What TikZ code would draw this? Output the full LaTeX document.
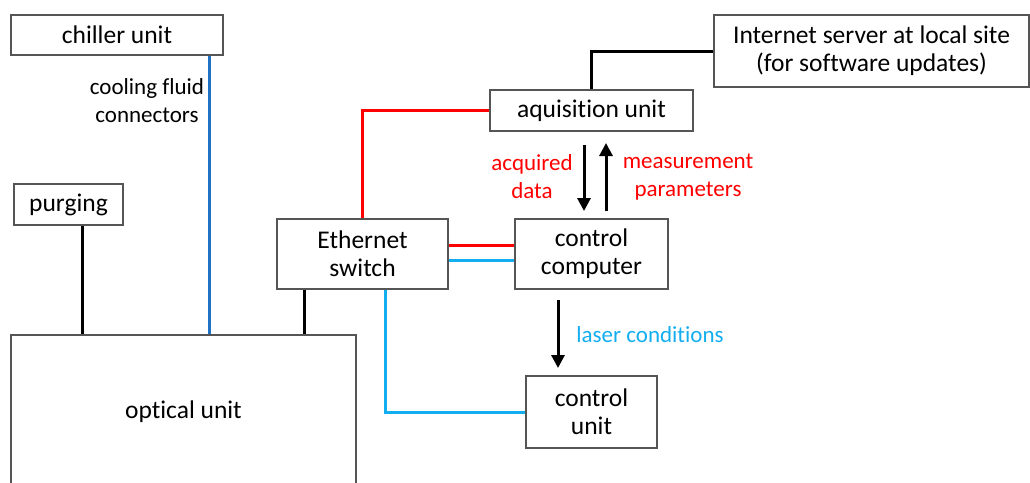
\documentclass[tikz,border=0pt]{standalone}
\usepackage{fontspec}
\setmainfont{Carlito}[Ligatures=NoCommon]
\usetikzlibrary{arrows.meta}
\definecolor{bordergray}{HTML}{555555}
\definecolor{redline}{HTML}{FF0000}
\definecolor{lightblue}{HTML}{12AEEF}
\definecolor{darkblue}{HTML}{1F72C4}
\tikzset{
  box/.style={draw=bordergray, line width=1.3pt, fill=white, inner sep=0pt, align=center, font=\fontsize{25.5}{28}\selectfont},
  lbl/.style={inner sep=0pt, align=center, font=\fontsize{23}{28}\selectfont},
  conn/.style={line width=3pt},
  flow/.style={line width=3pt, -{Triangle[width=13pt,length=13pt]}}
}
\begin{document}
\begin{tikzpicture}[x=1pt,y=-1pt]
\useasboundingbox (0,0) rectangle (1030,482);
\clip (0,0) rectangle (1030,482);
% boxes
\node[box, minimum width=212pt, minimum height=40pt] (chiller) at (117,35) {chiller unit};
\node[box, minimum width=109pt, minimum height=41pt] (purging) at (68.5,204.5) {purging};
\node[box, minimum width=345pt, minimum height=154pt] (optical) at (183.5,412) {optical unit};
\node[box, minimum width=171pt, minimum height=70pt] (ethernet) at (362.5,254) {Ethernet\\switch};
\node[box, minimum width=203pt, minimum height=41pt] (aq) at (591.5,110.5) {aquisition unit};
\node[box, minimum width=315pt, minimum height=72pt] (internet) at (871.5,51) {Internet server at local site\\(for software updates)};
\node[box, minimum width=153pt, minimum height=70pt] (cc) at (591.5,254) {control\\computer};
\node[box, minimum width=131pt, minimum height=72pt] (cu) at (591.5,412) {control\\unit};
% helper coordinates
\coordinate (xcool) at (209,0);
\coordinate (xpurge) at (82,0);
\coordinate (xeth) at (304,0);
\coordinate (xlb) at (385,0);
\coordinate (yred) at (0,245);
\coordinate (yblue) at (0,260);
\coordinate (adtop) at (584,145);
\coordinate (adbot) at (584,211);
\coordinate (mpbot) at (606,211);
\coordinate (mptop) at (606,143);
\coordinate (lctop) at (558,300);
\coordinate (lcbot) at (558,368);
% connectors
\draw[conn, darkblue] (chiller.south -| xcool) -- (optical.north -| xcool);
\draw[conn, black] (purging.south -| xpurge) -- (optical.north -| xpurge);
\draw[conn, black] (ethernet.south -| xeth) -- (optical.north -| xeth);
\draw[conn, redline] (ethernet.north) |- (aq.west);
\draw[conn, lightblue] (ethernet.south -| xlb) |- (cu.west);
\draw[conn, redline] (ethernet.east |- yred) -- (cc.west |- yred);
\draw[conn, lightblue] (ethernet.east |- yblue) -- (cc.west |- yblue);
\draw[conn, black] (aq.north) |- (internet.west);
% arrows
\draw[flow] (adtop) -- (adbot);
\draw[flow] (mpbot) -- (mptop);
\draw[flow] (lctop) -- (lcbot);
% labels
\node[lbl] (coolbl) at (147,101) {cooling fluid\\connectors};
\node[lbl, text=redline] (adlbl) at (532,177) {acquired\\data};
\node[lbl, text=redline] (mplbl) at (688,177) {measurement\\parameters};
\node[lbl, text=lightblue] (lclbl) at (650,335) {laser conditions};
\end{tikzpicture}
\end{document}
